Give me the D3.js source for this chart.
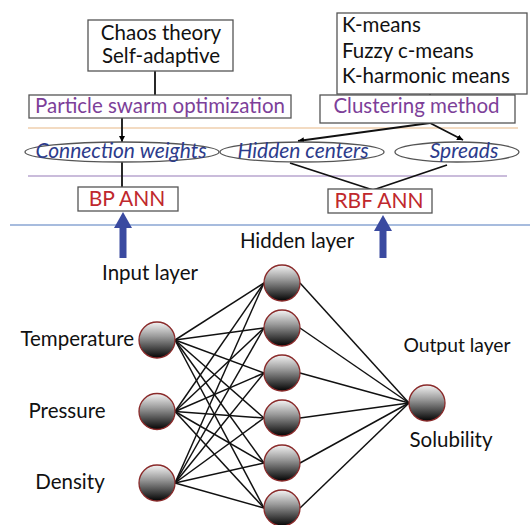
<!doctype html>
<html>
<head>
	<meta charset="UTF-8">
	<title>BP / RBF ANN diagram</title>
	<script src="https://d3js.org/d3.v7.min.js"></script>
	<style>
		body { margin: 0; background: #fff; }
		text { font-family: Lato, "Open Sans", sans-serif; }
	</style>
</head>
<body>
	<script>
		// labels
		var psoMethods = ["Chaos theory", "Self-adaptive"];
		var clusterMethods = ["K-means", "Fuzzy c-means", "K-harmonic means"];
		var optimisers = ["Particle swarm optimization", "Clustering method"];
		var parameters = ["Connection weights", "Hidden centers", "Spreads"];
		var models = ["BP ANN", "RBF ANN"];
		var inputLabels = ["Temperature", "Pressure", "Density"];
		var hiddenNodes = [1, 2, 3, 4, 5, 6];
		var outputLabels = ["Solubility"];
		var layerLabels = ["Input layer", "Hidden layer", "Output layer"];

		var width = 530, height = 525, r = 18;
		var fs = 20.5;

		var svg = d3.select("body").append("svg")
			.attr("width", width)
			.attr("height", height);

		var defs = svg.append("defs");

		// node shading, light on top going to black
		var grad = defs.append("linearGradient")
			.attr("id", "ball")
			.attr("x1", 0).attr("y1", 0)
			.attr("x2", 0).attr("y2", 1);
		grad.append("stop").attr("offset", "0%").attr("stop-color", "#f4f4f4");
		grad.append("stop").attr("offset", "40%").attr("stop-color", "#9a9a9a");
		grad.append("stop").attr("offset", "100%").attr("stop-color", "#030303");

		defs.append("marker")
			.attr("id", "tip")
			.attr("viewBox", "0 0 10 10")
			.attr("refX", 10).attr("refY", 5)
			.attr("markerWidth", 6).attr("markerHeight", 6)
			.attr("markerUnits", "userSpaceOnUse")
			.attr("orient", "auto")
			.append("path")
			.attr("d", "M0,0 L10,5 L0,10 Z")
			.attr("fill", "#000");

		function line(x1, y1, x2, y2, col, w) {
			return svg.append("line")
				.attr("x1", x1).attr("y1", y1)
				.attr("x2", x2).attr("y2", y2)
				.attr("stroke", col || "#111")
				.attr("stroke-width", w || 1.8);
		}

		function box(x, y, w, h) {
			svg.append("rect")
				.attr("x", x).attr("y", y)
				.attr("width", w).attr("height", h)
				.attr("fill", "#fff")
				.attr("stroke", "#555")
				.attr("stroke-width", 1.3);
		}

		// ---------- top part: optimisers ----------
		//separator lines
		line(28, 128, 518, 128, "#efcfae", 1.5);
		line(28, 176, 507, 176, "#b8a6cf", 1.5);
		line(10, 225, 530, 225, "#8aa6d3", 1.5);

		// connectors
		line(155, 71, 155, 95);
		line(430, 94, 430, 95);
		line(122, 118, 122, 142).attr("marker-end", "url(#tip)");
		line(430, 123, 298, 141).attr("marker-end", "url(#tip)");
		line(430, 123, 463, 140).attr("marker-end", "url(#tip)");
		line(122, 162, 122, 187);
		line(290, 163, 373, 190);
		line(447, 165, 373, 190);

		box(88, 20, 145, 51);
		svg.append("g").selectAll("text")
			.data(psoMethods).join("text")
			.attr("x", 161).attr("y", function(d, i) { return 40 + i * 23; })
			.attr("text-anchor", "middle")
			.attr("font-size", fs)
			.attr("fill", "#111")
			.text(function(d) { return d; });

		box(337, 13, 190, 81);
		svg.append("g").selectAll("text")
			.data(clusterMethods).join("text")
			.attr("x", 342).attr("y", function(d, i) { return 32 + i * 25.5; })
			.attr("font-size", fs)
			.attr("fill", "#111")
			.text(function(d) { return d; });

		var optBoxes = [[29, 95, 262, 23], [320, 95, 195, 28]];
		optBoxes.forEach(function(b, i) {
			box(b[0], b[1], b[2], b[3]);
			svg.append("text")
				.attr("x", b[0] + b[2] / 2 + (i == 0 ? 0 : -1)).attr("y", 113)
				.attr("text-anchor", "middle")
				.attr("font-size", fs)
				.attr("fill", "#7d3f99")
				.text(optimisers[i]);
		});

		// parameter ellipses
		var ell = [[122, 97], [302, 82], [457, 62]];
		var textX = [121, 303, 464];
		ell.forEach(function(e) {
			svg.append("ellipse")
				.attr("cx", e[0]).attr("cy", 152)
				.attr("rx", e[1]).attr("ry", 10)
				.attr("fill", "#fff")
				.attr("stroke", "#555")
				.attr("stroke-width", 1.3);
		});
		svg.append("g").selectAll("text")
			.data(parameters).join("text")
			.attr("x", function(d, i) { return textX[i]; })
			.attr("y", 158)
			.attr("text-anchor", "middle")
			.attr("font-size", 21)
			.attr("font-style", "italic")
			.attr("fill", "#2d3c8c")
			.text(function(d) { return d; });

		var modelBoxes = [[78, 187, 100, 24], [328, 189, 104, 24]];
		modelBoxes.forEach(function(b, i) {
			box(b[0], b[1], b[2], b[3]);
			svg.append("text")
				.attr("x", b[0] + b[2] / 2 - 1).attr("y", b[1] + 19)
				.attr("text-anchor", "middle")
				.attr("font-size", 21)
				.attr("fill", "#c0282d")
				.text(models[i]);
		});

		// big blue arrows
		[[123, 212], [383, 215]].forEach(function(a) {
			var x = a[0], y = a[1];
			svg.append("path")
				.attr("d", "M" + x + "," + y + " L" + (x + 9) + "," + (y + 16) + " L" + (x + 3.5) + "," + (y + 16) +
					" L" + (x + 3.5) + ",258 L" + (x - 3.5) + ",258 L" + (x - 3.5) + "," + (y + 16) +
					" L" + (x - 9) + "," + (y + 16) + " Z")
				.attr("fill", "#3a4aa0");
		});

		// ---------- network ----------
		var yIn = d3.scalePoint().domain(inputLabels).range([340, 483]);
		var yHid = d3.scalePoint().domain(hiddenNodes).range([283, 508]);
		var yOut = d3.scalePoint().domain(outputLabels).range([403, 403]);
		var xIn = 157, xHid = 282, xOut = 427;

		var links = [];
		inputLabels.forEach(function(a) {
			hiddenNodes.forEach(function(b) {
				links.push({x1: xIn + r, y1: yIn(a), x2: xHid - r, y2: yHid(b)});
			});
		});
		hiddenNodes.forEach(function(b) {
			outputLabels.forEach(function(c) {
				links.push({x1: xHid + r, y1: yHid(b), x2: xOut - r, y2: yOut(c)});
			});
		});

		svg.append("g").selectAll("line")
			.data(links).join("line")
			.attr("x1", function(d) { return d.x1; })
			.attr("y1", function(d) { return d.y1; })
			.attr("x2", function(d) { return d.x2; })
			.attr("y2", function(d) { return d.y2; })
			.attr("stroke", "#111")
			.attr("stroke-width", 1.5);

		var nodes = inputLabels.map(function(d) { return {x: xIn, y: yIn(d)}; })
			.concat(hiddenNodes.map(function(d) { return {x: xHid, y: yHid(d)}; }))
			.concat(outputLabels.map(function(d) { return {x: xOut, y: yOut(d)}; }));

		svg.append("g").selectAll("circle")
			.data(nodes).join("circle")
			.attr("cx", function(d) { return d.x; })
			.attr("cy", function(d) { return d.y; })
			.attr("r", r)
			.attr("fill", "url(#ball)")
			.attr("stroke", "#8a2a2a")
			.attr("stroke-width", 1.3);

		// labels
		svg.append("g").selectAll("text")
			.data(inputLabels).join("text")
			.attr("x", function(d, i) { return i == 0 ? 134 : [0, 67, 70][i]; })
			.attr("y", function(d) { return yIn(d) + 6; })
			.attr("text-anchor", function(d, i) { return i == 0 ? "end" : "middle"; })
			.attr("font-size", fs)
			.attr("fill", "#111")
			.text(function(d) { return d; });

		svg.append("text")
			.attr("x", 451).attr("y", 447)
			.attr("text-anchor", "middle")
			.attr("font-size", fs)
			.attr("fill", "#111")
			.text(outputLabels[0]);

		var layerPos = [[150, 280, fs], [297, 248, fs], [457, 352, 19.3]];
		svg.append("g").selectAll("text")
			.data(layerLabels).join("text")
			.attr("x", function(d, i) { return layerPos[i][0]; })
			.attr("y", function(d, i) { return layerPos[i][1]; })
			.attr("text-anchor", "middle")
			.attr("font-size", function(d, i) { return layerPos[i][2]; })
			.attr("fill", "#111")
			.text(function(d) { return d; });
	</script>
</body>
</html>
